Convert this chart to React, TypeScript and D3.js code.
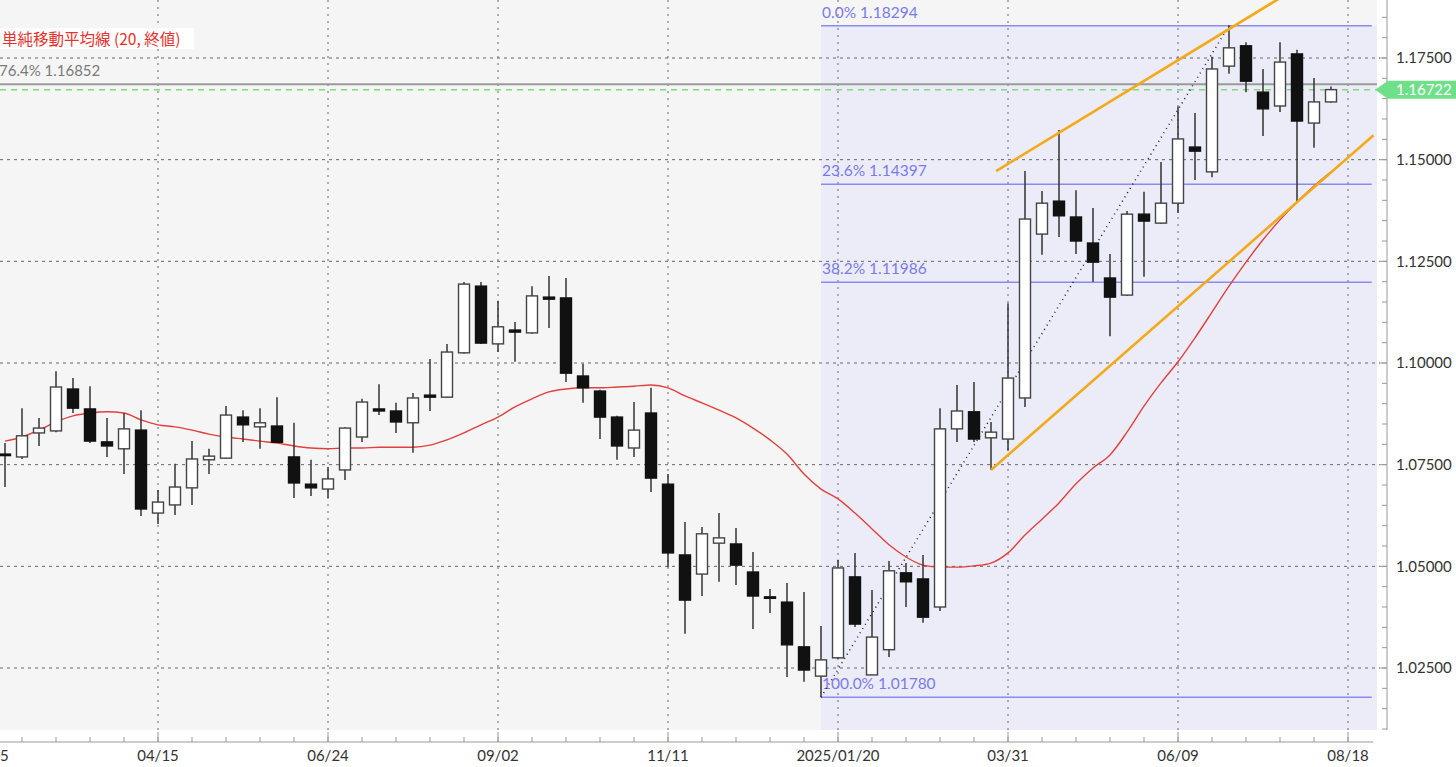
import * as d3 from "d3";

// weekly EUR/USD candles, first week 2024/02/12
const START = Date.UTC(2024, 1, 12);

const opens = [
  1.0776, 1.0769, 1.0828, 1.0833, 1.0936, 1.0887, 1.0806, 1.0789, 1.0835, 1.0631,
  1.0651, 1.0693, 1.0762, 1.0766, 1.0867, 1.0843, 1.0845, 1.0769, 1.0702, 1.069,
  1.0737, 1.0818, 1.0887, 1.0882, 1.0853, 1.0921, 1.0916, 1.1025, 1.1189, 1.1047,
  1.1081, 1.1074, 1.1162, 1.116, 1.0968, 1.0931, 1.0867, 1.0791, 1.0877, 1.0702,
  1.0528, 1.0481, 1.0557, 1.0555, 1.0486, 1.0425, 1.0412, 1.0302, 1.023, 1.0275,
  1.0474, 1.0233, 1.0295, 1.0484, 1.0469, 1.04, 1.0838, 1.088, 1.0816, 1.0813,
  1.0914, 1.1317, 1.1398, 1.1359, 1.1295, 1.1209, 1.1167, 1.1366, 1.1344, 1.1393,
  1.1531, 1.147, 1.173, 1.178, 1.1666, 1.1632, 1.176, 1.159, 1.1642,
];
const highs = [
  1.0803, 1.0889, 1.0865, 1.098, 1.0963, 1.0943, 1.0865, 1.0877, 1.0884, 1.0688,
  1.0752, 1.0808, 1.0789, 1.0894, 1.0884, 1.0889, 1.0916, 1.0853, 1.0762, 1.0744,
  1.0842, 1.0912, 1.0948, 1.0902, 1.0926, 1.101, 1.1047, 1.1199, 1.1199, 1.1153,
  1.1101, 1.1189, 1.1214, 1.1209, 1.0998, 1.0934, 1.087, 1.0904, 1.0939, 1.0727,
  1.0609, 1.0597, 1.0631, 1.0594, 1.0535, 1.0444, 1.0459, 1.0437, 1.0353, 1.0516,
  1.0533, 1.0442, 1.0513, 1.0508, 1.0528, 1.0889, 1.0946, 1.0953, 1.0855, 1.1147,
  1.1472, 1.1423, 1.1573, 1.1425, 1.1381, 1.1268, 1.1374, 1.1421, 1.1494, 1.163,
  1.1615, 1.1753, 1.18294, 1.1789, 1.1723, 1.1789, 1.177, 1.1701, 1.168,
];
const lows = [
  1.0695, 1.0764, 1.0796, 1.083, 1.0877, 1.0803, 1.0769, 1.0727, 1.0624, 1.0604,
  1.0626, 1.0651, 1.0727, 1.0764, 1.0806, 1.0789, 1.0803, 1.0668, 1.0673, 1.0668,
  1.0712, 1.0806, 1.0872, 1.0828, 1.0779, 1.0882, 1.0914, 1.1023, 1.1047, 1.1027,
  1.1003, 1.1072, 1.1086, 1.0953, 1.0902, 1.0813, 1.0762, 1.0769, 1.0683, 1.0498,
  1.0334, 1.0427, 1.0462, 1.0454, 1.0346, 1.0385, 1.0228, 1.0216, 1.0178, 1.0272,
  1.0351, 1.0233, 1.0277, 1.04, 1.0361, 1.039, 1.0806, 1.0806, 1.0737, 1.0784,
  1.0892, 1.1266, 1.131, 1.1268, 1.1199, 1.1066, 1.1165, 1.1212, 1.1342, 1.1369,
  1.145, 1.1457, 1.1711, 1.1666, 1.1558, 1.1617, 1.1396, 1.1529, 1.164,
];
const closes = [
  1.0774, 1.0821, 1.084, 1.0941, 1.0889, 1.0808, 1.0796, 1.0838, 1.0641, 1.0658,
  1.0695, 1.0764, 1.0771, 1.0872, 1.0848, 1.0853, 1.0805, 1.0705, 1.0693, 1.0715,
  1.084, 1.0904, 1.0882, 1.0855, 1.0914, 1.0916, 1.1027, 1.1194, 1.1049, 1.1089,
  1.1076, 1.1165, 1.1157, 1.0975, 1.0939, 1.0867, 1.0796, 1.0835, 1.0717, 1.0533,
  1.0417, 1.058, 1.057, 1.0503, 1.0427, 1.0422, 1.0307, 1.0245, 1.027, 1.0496,
  1.0358, 1.0326, 1.0489, 1.0462, 1.0375, 1.0838, 1.0882, 1.0813, 1.083, 1.0963,
  1.1354, 1.1393, 1.1362, 1.13, 1.1248, 1.1162, 1.1366, 1.1349, 1.1393, 1.1551,
  1.1521, 1.1723, 1.1775, 1.1693, 1.1625, 1.174, 1.1595, 1.1642, 1.16722,
];
const sma20 = [
  1.0808, 1.0818, 1.0835, 1.0855, 1.087, 1.0877, 1.088, 1.0877, 1.086, 1.0848,
  1.0843, 1.0835, 1.0825, 1.0818, 1.0813, 1.0808, 1.0803, 1.0796, 1.0791, 1.0789,
  1.0791, 1.0791, 1.0793, 1.0793, 1.0793, 1.0798, 1.0811, 1.0828, 1.0848, 1.0867,
  1.0892, 1.0912, 1.0929, 1.0936, 1.0939, 1.0939, 1.0941, 1.0943, 1.0946, 1.0939,
  1.0919, 1.0902, 1.0884, 1.0865, 1.084, 1.0811, 1.0776, 1.0727, 1.069, 1.0666,
  1.0631, 1.0592, 1.0553, 1.0523, 1.0503, 1.0498, 1.0498, 1.0501, 1.0508, 1.0533,
  1.0577, 1.0616, 1.0656, 1.0703, 1.0742, 1.0774, 1.083, 1.0894, 1.0951, 1.1003,
  1.1062, 1.1125, 1.1189, 1.1248, 1.1303, 1.1352, 1.1396, 1.1435, 1.147,
];

// week index, price
const trendLine = [[48, 1.0178], [72, 1.18294]];
const channelUpper = [[58.3, 1.1472], [76, 1.1923]];
const channelLower = [[58, 1.0737], [80.5, 1.156]];

const fibLevels = [
  { label: "0.0%", value: 1.18294 },
  { label: "23.6%", value: 1.14397 },
  { label: "38.2%", value: 1.11986 },
  { label: "100.0%", value: 1.0178 },
];
const fibStart = 48;
const fibEnd = 80.4;
const fib764 = { label: "76.4%", value: 1.16852 };
const lastPrice = 1.16722;

const labelWeeks = [-1, 9, 19, 29, 39, 49, 59, 69, 79];
const legendText = "単純移動平均線 (20, 終値)";

const PLOT_R = 1377;
const PLOT_B = 730;
const AXIS_X = 1387;
const AXIS_Y = 742;
const FONT = "Lato, 'Noto Sans', sans-serif";

const weekDate = (i: number) => new Date(START + i * 7 * 864e5);

export default function App() {
  const y = d3.scaleLinear().domain([1.025, 1.175]).range([668, 58]);
  const x = d3.scaleUtc().domain([weekDate(0), weekDate(79)]).range([5, 1348]);
  const xi = (i: number) => x(weekDate(i));

  const yMajor = d3.range(1.025, 1.1751, 0.025);
  const yMinor = d3.range(1.01, 1.1901, 0.005);
  const xMinor = d3.range(-1, 81, 2);

  const fmtShort = d3.utcFormat("%m/%d");
  const fmtLong = d3.utcFormat("%Y/%m/%d");
  const xLabels = labelWeeks.map((w, j) => {
    const d = weekDate(w);
    const prev = j > 0 ? weekDate(labelWeeks[j - 1]) : d;
    return { w, text: d.getUTCFullYear() !== prev.getUTCFullYear() ? fmtLong(d) : fmtShort(d) };
  });

  const smaPath = d3
    .line<number>()
    .x((_, i) => xi(i))
    .y((d) => y(d))
    .curve(d3.curveMonotoneX)(sma20);

  const seg = (pts: number[][]) =>
    d3.line<number[]>().x((p) => xi(p[0])).y((p) => y(p[1]))(pts)!;

  const fibX0 = xi(fibStart);
  const fibX1 = xi(fibEnd);
  const yLast = y(lastPrice);

  return (
    <svg
      width={1456}
      height={767}
      style={{ position: "absolute", left: 0, top: 0, background: "#fff" }}
      fontFamily={FONT}
    >
      <defs>
        <clipPath id="plot">
          <rect x={0} y={0} width={PLOT_R} height={PLOT_B} />
        </clipPath>
      </defs>
      <rect x={0} y={0} width={PLOT_R} height={PLOT_B} fill="#f5f5f5" />
      <rect
        x={fibX0}
        y={y(fibLevels[0].value)}
        width={PLOT_R - fibX0}
        height={PLOT_B - y(fibLevels[0].value)}
        fill="#ececf8"
      />

      {/* grid */}
      {yMajor.map((v) => (
        <line key={"gy" + v} x1={0} x2={1380} y1={y(v)} y2={y(v)} stroke="#666" strokeDasharray="3,4" />
      ))}
      {labelWeeks.map((w) => (
        <line key={"gx" + w} x1={xi(w)} x2={xi(w)} y1={0} y2={PLOT_B} stroke="#666" strokeDasharray="2,5" />
      ))}

      <g clipPath="url(#plot)">
        {/* fibonacci */}
        {fibLevels.map((f) => (
          <g key={f.label}>
            <line x1={fibX0} x2={fibX1} y1={y(f.value)} y2={y(f.value)} stroke="#8a8af0" strokeWidth={1.6} />
            <text x={fibX0 + 1} y={y(f.value) - 8} fontSize={15.5} fill="#7a7aec">
              {f.label} {f.value.toFixed(5)}
            </text>
          </g>
        ))}
        <line x1={0} x2={1380} y1={y(fib764.value)} y2={y(fib764.value)} stroke="#9a9a9a" strokeWidth={2} />
        <text x={-1} y={y(fib764.value) - 8} fontSize={15} fill="#7a7a7a">
          {fib764.label} {fib764.value.toFixed(5)}
        </text>
        <line x1={0} x2={1380} y1={yLast} y2={yLast} stroke="#7ddc7d" strokeWidth={1.5} strokeDasharray="6,5" />

        <path d={seg(trendLine)} stroke="#222" strokeWidth={1.5} strokeDasharray="1,4" fill="none" />

        <path d={smaPath!} stroke="#e2403c" strokeWidth={1.4} fill="none" />

        {/* candles */}
        {closes.map((c, i) => {
          const o = opens[i];
          const up = c >= o;
          const cx = xi(i);
          const top = y(Math.max(o, c));
          const h = Math.max(y(Math.min(o, c)) - top, 1.5);
          return (
            <g key={i}>
              <line x1={cx} x2={cx} y1={y(highs[i])} y2={y(lows[i])} stroke="#333" strokeWidth={1.5} />
              <rect
                x={cx - 5.5}
                y={top}
                width={11}
                height={h}
                fill={up ? "#fff" : "#111"}
                stroke={up ? "#444" : "#111"}
                strokeWidth={1.4}
              />
            </g>
          );
        })}

        <path d={seg(channelUpper)} stroke="#f2aa1c" strokeWidth={2.6} fill="none" />
        <path d={seg(channelLower)} stroke="#f2aa1c" strokeWidth={2.6} fill="none" />
      </g>

      {/* legend */}
      <rect x={0} y={28} width={194} height={21} fill="#fff" />
      <text x={2} y={45} fontSize={15.5} fill="#e8302c" fontFamily="'Noto Sans CJK JP', Lato, sans-serif">
        {legendText}
      </text>

      {/* y axis */}
      <line x1={AXIS_X} x2={AXIS_X} y1={0} y2={PLOT_B} stroke="#999" />
      {yMinor.map((v) => (
        <line key={"ym" + v} x1={AXIS_X - 5} x2={AXIS_X} y1={y(v)} y2={y(v)} stroke="#999" />
      ))}
      {yMajor.map((v) => (
        <g key={"yl" + v}>
          <line x1={AXIS_X - 8} x2={AXIS_X} y1={y(v)} y2={y(v)} stroke="#999" />
          <text x={1396} y={y(v)} dy="0.35em" fontSize={15} fill="#333">
            {v.toFixed(5)}
          </text>
        </g>
      ))}
      <path
        d={`M1375,${yLast} L1388,${yLast - 9} L1456,${yLast - 9} L1456,${yLast + 9} L1388,${yLast + 9} Z`}
        fill="#6fe08a"
      />
      <text x={1396} y={yLast} dy="0.35em" fontSize={15} fill="#fff">
        {lastPrice.toFixed(5)}
      </text>

      {/* x axis */}
      <line x1={0} x2={1373} y1={AXIS_Y} y2={AXIS_Y} stroke="#999" />
      {xMinor.map((w) => (
        <line key={"xm" + w} x1={xi(w)} x2={xi(w)} y1={AXIS_Y - 5} y2={AXIS_Y} stroke="#999" />
      ))}
      {xLabels.map((l) => (
        <g key={"xl" + l.w}>
          <line x1={xi(l.w)} x2={xi(l.w)} y1={AXIS_Y - 10} y2={AXIS_Y} stroke="#999" />
          <text x={xi(l.w)} y={756} dy="0.35em" textAnchor="middle" fontSize={15} fill="#333">
            {l.text}
          </text>
        </g>
      ))}
    </svg>
  );
}
